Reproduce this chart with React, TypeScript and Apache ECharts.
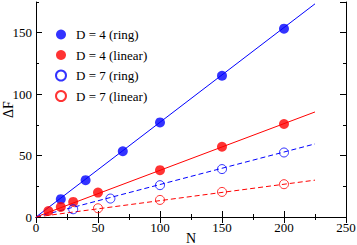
import React, { useEffect, useRef } from "react";
import * as echarts from "echarts";

const seriesNames = ["D = 4 (ring)", "D = 4 (linear)", "D = 7 (ring)", "D = 7 (linear)"];
const ring4: [number, number][] = [[20, 14.5], [40, 30], [70, 53.5], [100, 77], [150, 115], [200, 153.3]];
const linear4: [number, number][] = [[10, 4.9], [20, 8.2], [30, 12.3], [50, 19.9], [100, 38.1], [150, 57.2], [200, 75.7]];
const ring7: [number, number][] = [[30, 6.3], [60, 15], [100, 25.9], [150, 39], [200, 52.5]];
const linear7: [number, number][] = [[50, 7.1], [100, 13.9], [150, 20.4], [200, 26.7]];
const fit4ring: [number, number][] = [[0, 0], [225, 173.5]];
const fit4linear: [number, number][] = [[0, 0], [225, 85.5]];
const fit7ring: [number, number][] = [[0, 0], [225, 59.5]];
const fit7linear: [number, number][] = [[0, 0], [225, 30]];

const BLUE = "#0000ff";
const RED = "#ff0000";
const FONT = "'Liberation Serif', 'Times New Roman', serif";

export default function App() {
  const ref = useRef<HTMLDivElement>(null);
  useEffect(() => {
    if (!ref.current) return;
    const chart = echarts.init(ref.current, undefined, { renderer: "svg" });
    const tickBase = { lineStyle: { color: "#000", width: 1 } };
    const yCommon = { type: "value", min: 0, max: 175, splitLine: { show: false } };
    chart.setOption({
      animation: false,
      backgroundColor: "#fff",
      textStyle: { fontFamily: FONT },
      grid: { left: 36, right: 11, top: 2, bottom: 28, containLabel: false, outerBoundsMode: "none" },
      legend: {
        data: seriesNames,
        orient: "vertical",
        left: 50,
        top: 23,
        itemWidth: 20,
        itemHeight: 10,
        itemGap: 7.5,
        textStyle: { fontFamily: FONT, fontSize: 13, color: "#000" },
      },
      xAxis: [
        {
          type: "value", min: 0, max: 250, interval: 50, position: "bottom",
          name: "N", nameLocation: "middle", nameGap: 21, nameMoveOverlap: false,
          nameTextStyle: { fontFamily: FONT, fontSize: 14, color: "#000", verticalAlign: "middle", lineHeight: 14 },
          axisLine: { show: true, lineStyle: { color: "#000", width: 1 } },
          axisTick: { show: true, inside: true, length: 6, ...tickBase },
          minorTick: { show: true, splitNumber: 2, length: 3, ...tickBase },
          axisLabel: { fontFamily: FONT, fontSize: 13, color: "#000", margin: 4 },
          splitLine: { show: false },
        },
        {
          type: "value", min: 0, max: 250, interval: 50, position: "top",
          axisLine: { show: true, lineStyle: { color: "#000", width: 1 } },
          axisTick: { show: true, inside: true, length: 6, ...tickBase },
          minorTick: { show: true, splitNumber: 2, length: 3, ...tickBase },
          axisLabel: { show: false },
          splitLine: { show: false },
        },
      ],
      yAxis: [
        {
          ...yCommon, interval: 50, position: "left",
          name: "ΔF", nameLocation: "middle", nameGap: 28, nameMoveOverlap: false,
          nameTextStyle: { fontFamily: FONT, fontSize: 14, color: "#000", verticalAlign: "middle", lineHeight: 14 },
          axisLine: { show: true, lineStyle: { color: "#000", width: 1 } },
          axisTick: { show: true, inside: true, length: 6, ...tickBase },
          axisLabel: { fontFamily: FONT, fontSize: 13, color: "#000", margin: 4, showMaxLabel: false },
        },
        {
          ...yCommon, interval: 25, position: "left",
          axisLine: { show: false },
          axisTick: { show: true, inside: true, length: 3, ...tickBase },
          axisLabel: { show: false },
        },
        {
          ...yCommon, interval: 50, position: "right",
          axisLine: { show: true, lineStyle: { color: "#000", width: 1 } },
          axisTick: { show: true, inside: true, length: 6, ...tickBase },
          axisLabel: { show: false },
        },
        {
          ...yCommon, interval: 25, position: "right",
          axisLine: { show: false },
          axisTick: { show: true, inside: true, length: 3, ...tickBase },
          axisLabel: { show: false },
        },
      ],
      series: [
        { type: "line", data: fit4ring, symbol: "none", lineStyle: { color: BLUE, width: 1 }, z: 1, silent: true },
        { type: "line", data: fit4linear, symbol: "none", lineStyle: { color: RED, width: 1 }, z: 1, silent: true },
        { type: "line", data: fit7ring, symbol: "none", lineStyle: { color: BLUE, width: 1, type: [5, 3] }, z: 1, silent: true },
        { type: "line", data: fit7linear, symbol: "none", lineStyle: { color: RED, width: 1, type: [5, 3] }, z: 1, silent: true },
        { name: seriesNames[0], type: "scatter", data: ring4, symbol: "circle", symbolSize: 10, itemStyle: { color: BLUE }, z: 3 },
        { name: seriesNames[1], type: "scatter", data: linear4, symbol: "circle", symbolSize: 10, itemStyle: { color: RED }, z: 3 },
        { name: seriesNames[2], type: "scatter", data: ring7, symbol: "circle", symbolSize: 9, itemStyle: { color: "rgba(255,255,255,0)", borderColor: BLUE, borderWidth: 1 }, z: 3 },
        { name: seriesNames[3], type: "scatter", data: linear7, symbol: "circle", symbolSize: 9, itemStyle: { color: "rgba(255,255,255,0)", borderColor: RED, borderWidth: 1 }, z: 3 },
      ],
    });
    return () => chart.dispose();
  }, []);
  return <div ref={ref} style={{ width: 357, height: 245, position: "absolute", left: 0, top: 0 }} />;
}
